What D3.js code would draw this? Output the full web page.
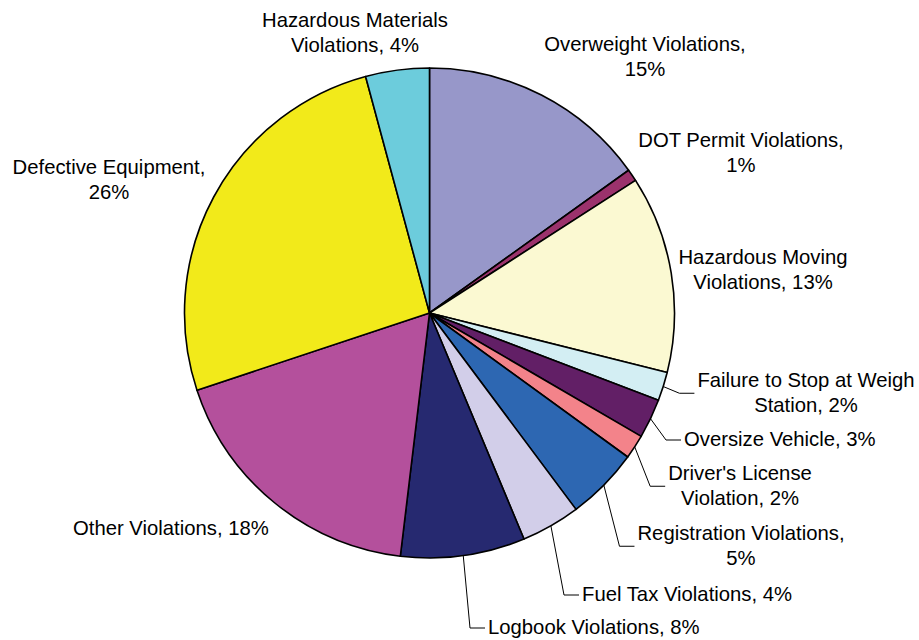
<!DOCTYPE html>
<html>
<head>
<meta charset="utf-8">
<script src="https://cdn.jsdelivr.net/npm/d3@7"></script>
<style>
  html, body { margin: 0; padding: 0; background: #fff; }
  svg { display: block; }
</style>
</head>
<body>
<svg id="chart" width="919" height="640"></svg>
<script>
// ---- data ----
const categories = [
  "Overweight Violations",
  "DOT Permit Violations",
  "Hazardous Moving Violations",
  "Failure to Stop at Weigh Station",
  "Oversize Vehicle",
  "Driver's License Violation",
  "Registration Violations",
  "Fuel Tax Violations",
  "Logbook Violations",
  "Other Violations",
  "Defective Equipment",
  "Hazardous Materials Violations"
];
const shares = [15.1, 0.8, 13.0, 1.9, 2.6, 1.6, 4.8, 3.9, 8.2, 18.0, 25.9, 4.2];
const colors = ["#9797C9", "#9B326C", "#FBF9D2", "#D3EEF3", "#621F66", "#F3838A",
                "#2D67B2", "#D2CEE9", "#262970", "#B4509C", "#F2EA1A", "#6CCCDC"];

// ---- layout (label placement, not data) ----
const labelLayout = [
  { x: 645, y: 51,  anchor: "middle", firstWords: 2, leader: false },
  { x: 741, y: 147, anchor: "middle", firstWords: 3, leader: false },
  { x: 763, y: 264, anchor: "middle", firstWords: 2, leader: false },
  { x: 806, y: 387, anchor: "middle", firstWords: 5, leader: true },
  { x: 684, y: 446, anchor: "start",  firstWords: 0, leader: true },
  { x: 740, y: 480, anchor: "middle", firstWords: 2, leader: true },
  { x: 741, y: 540, anchor: "middle", firstWords: 2, leader: true },
  { x: 582, y: 601, anchor: "start",  firstWords: 0, leader: true },
  { x: 488, y: 634, anchor: "start",  firstWords: 0, leader: true },
  { x: 73,  y: 535, anchor: "start",  firstWords: 0, leader: false },
  { x: 109, y: 174, anchor: "middle", firstWords: 2, leader: false },
  { x: 355, y: 27,  anchor: "middle", firstWords: 2, leader: false }
];

const cx = 429.5, cy = 313, R = 245;
const fontSize = 20.3, lineH = 24.5;

const svg = d3.select("#chart");
const total = d3.sum(shares);
const items = categories.map((c, i) => ({ name: c, value: shares[i], color: colors[i], i }));

const pie = d3.pie().value(d => d.value).sort(null).startAngle(0).endAngle(2 * Math.PI);
const arcs = pie(items);
const arc = d3.arc().innerRadius(0).outerRadius(R);

const g = svg.append("g").attr("transform", `translate(${cx},${cy})`);
g.selectAll("path.slice")
  .data(arcs)
  .join("path")
  .attr("class", "slice")
  .attr("d", arc)
  .attr("fill", d => d.data.color)
  .attr("stroke", "#000")
  .attr("stroke-width", 1.6)
  .attr("stroke-linejoin", "round");

// labels
const labelsG = svg.append("g")
  .attr("font-family", "'Liberation Sans', Arial, sans-serif")
  .attr("font-size", fontSize)
  .attr("fill", "#000");

const leadersG = svg.append("g");

arcs.forEach((a, i) => {
  const L = labelLayout[i];
  const pct = Math.round(a.data.value / total * 100);
  const full = `${a.data.name}, ${pct}%`;
  const words = full.split(" ");
  const lines = L.firstWords > 0
    ? [words.slice(0, L.firstWords).join(" "), words.slice(L.firstWords).join(" ")]
    : [full];
  const t = labelsG.append("text")
    .attr("text-anchor", L.anchor)
    .attr("x", L.x)
    .attr("y", L.y);
  lines.forEach((ln, k) => {
    t.append("tspan").attr("x", L.x).attr("y", L.y + k * lineH).text(ln);
  });
  if (L.leader) {
    const bb = t.node().getBBox();
    const mid = (a.startAngle + a.endAngle) / 2;
    const sx = cx + R * Math.sin(mid), sy = cy - R * Math.cos(mid);
    const endX = bb.x - 3;
    const ly = bb.y + bb.height / 2 + 1;
    const elbowX = endX - 15;
    leadersG.append("path")
      .attr("d", d3.line()([[sx, sy], [elbowX, ly], [endX, ly]]))
      .attr("fill", "none")
      .attr("stroke", "#000")
      .attr("stroke-width", 1);
  }
});
</script>
</body>
</html>
